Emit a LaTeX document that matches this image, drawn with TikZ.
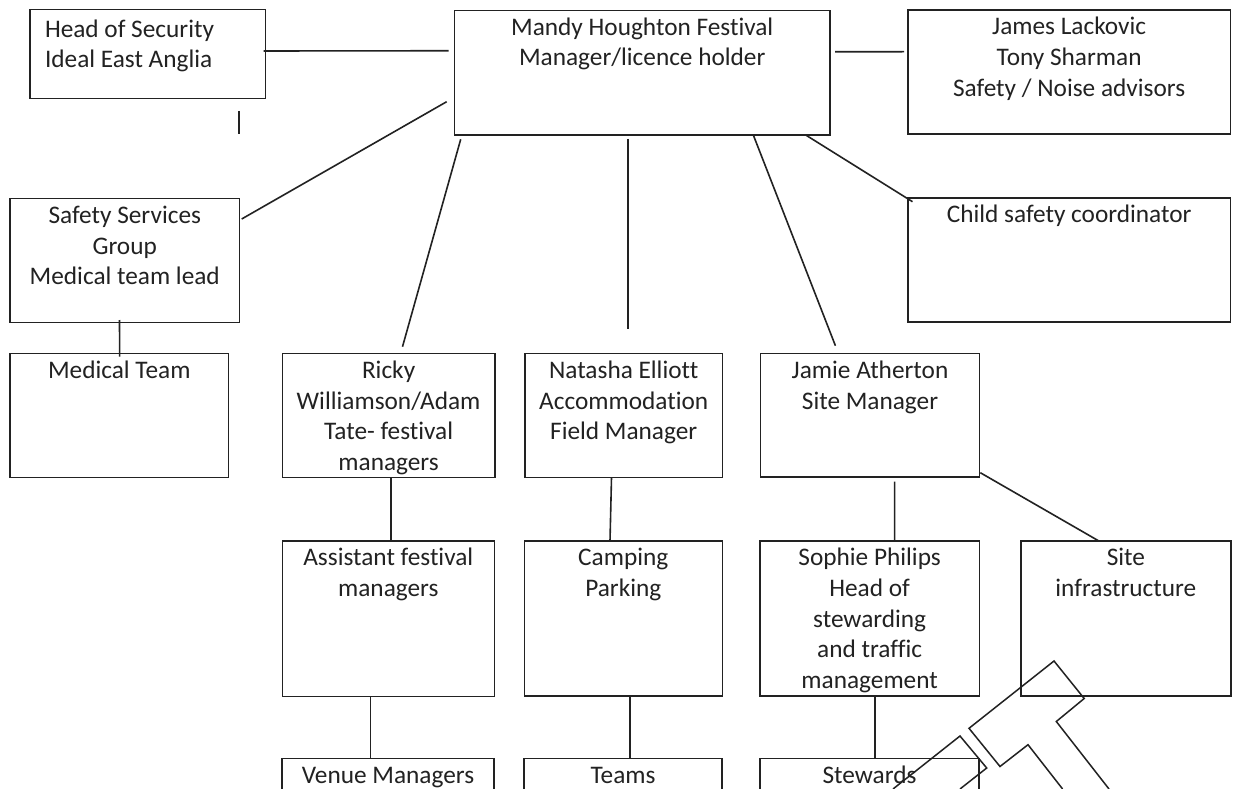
\documentclass[tikz,border=0pt]{standalone}
\usepackage{fontspec}
\setmainfont{Carlito}[Ligatures=NoCommon]
\usetikzlibrary{calc}
\definecolor{ink}{HTML}{222222}
\newcommand{\cbox}[3]{\parbox[c][#2pt][t]{#1pt}{\centering\rule{0pt}{24.8pt}#3\par}}
\begin{document}
\begin{tikzpicture}[x=1pt,y=-1pt,
  box/.style={draw=ink, line width=1.6pt, inner sep=0pt, outer sep=0pt, anchor=north west, text=ink,
    font=\fontsize{25.3pt}{30.7pt}\selectfont},
  link/.style={draw=ink, line width=1.6pt}]
\useasboundingbox (0,0) rectangle (1237,789);
\fill[white] (0,0) rectangle (1237,789);
\clip (0,0) rectangle (1237,789);

% row 1
\node[box] (hos) at (30,9.5) {\parbox[c][89pt][t]{235.5pt}{\raggedright\leftskip=15pt\rule{0pt}{27.8pt}Head of Security\\Ideal East Anglia\par}};
\node[box] (mandy) at (454.5,10.5) {\cbox{375.5}{124.5}{Mandy Houghton Festival\\Manager/licence holder}};
\node[box] (james) at (908,10) {\cbox{322.3}{124}{James Lackovic\\Tony Sharman\\Safety / Noise advisors}};
% row 2
\node[box] (safety) at (10,198.5) {\cbox{229.5}{124}{Safety Services\\Group\\Medical team lead}};
\node[box] (child) at (908,197.7) {\cbox{322.3}{124}{Child safety coordinator}};
% row 3
\node[box] (medical) at (10,353.5) {\cbox{218.5}{124}{Medical Team}};
\node[box] (ricky) at (282.5,353.5) {\cbox{212.2}{124}{Ricky\\Williamson/Adam\\Tate- festival\\managers}};
\node[box] (natasha) at (525,353.5) {\cbox{197.4}{124}{Natasha Elliott\\Accommodation\\Field Manager}};
\node[box] (jamie) at (760.5,353.5) {\cbox{219}{123.5}{Jamie Atherton\\Site Manager}};
% row 4
\node[box] (assistant) at (282.3,541) {\cbox{212}{155.3}{Assistant festival\\managers}};
\node[box] (camping) at (524.3,541) {\cbox{198}{155}{Camping\\Parking}};
\node[box] (sophie) at (760,541) {\cbox{219.3}{155}{Sophie Philips\\Head of\\stewarding\\and traffic\\management}};
\node[box] (site) at (1020.7,541) {\cbox{210.3}{155}{Site\\infrastructure}};
% row 5
\node[box] (venue) at (282,758.3) {\cbox{212}{80}{Venue Managers}};
\node[box] (teams) at (524,758.3) {\cbox{198}{80}{Teams}};
\node[box] (stewards) at (760,758.3) {\cbox{219}{80}{Stewards}};

% connectors
\draw[link] ([shift={(-2,-3)}]hos.east) -- ([shift={(-6,-22)}]mandy.west);
\draw[link] ([shift={(5,-21)}]mandy.east) -- ([shift={(-4,-20.3)}]james.west);
\draw[link] ([shift={(91,12.5)}]hos.south) -- ([shift={(91,35.5)}]hos.south);
\draw[link] ([shift={(-7.8,-33.3)}]mandy.south west) -- ([shift={(2.2,20.5)}]safety.north east);
\draw[link] ([shift={(6.2,4.3)}]mandy.south west) -- ([shift={(120,-6.8)}]ricky.north west);
\draw[link] ([shift={(-14.25,4)}]mandy.south) -- ([shift={(4.3,-24.5)}]natasha.north);
\draw[link] ([shift={(-76.7,0)}]mandy.south east) -- ([shift={(74.9,-7.8)}]jamie.north west);
\draw[link] ([shift={(-24.3,0)}]mandy.south east) -- ([shift={(4.5,4)}]child.north west);
\draw[link] ([shift={(-5.25,-2.5)}]safety.south) -- ([shift={(0.4,3.2)}]medical.north);
\draw[link] ([shift={(2.4,0)}]ricky.south) -- ([shift={(2.7,0)}]assistant.north);
\draw[link] ([shift={(-12.2,0)}]natasha.south) -- ([shift={(-13.3,0)}]camping.north);
\draw[link] ([shift={(24.6,4.7)}]jamie.south) -- ([shift={(24.9,-1)}]sophie.north);
\draw[link] ([shift={(0.8,-4.3)}]jamie.south east) -- ([shift={(-27.5,-0.3)}]site.north);
\draw[link] ([shift={(-18,0)}]assistant.south) -- ([shift={(-17.7,0)}]venue.north);
\draw[link] ([shift={(6.7,0)}]camping.south) -- ([shift={(7,0)}]teams.north);
\draw[link] ([shift={(5.35,0)}]sophie.south) -- ([shift={(5.5,0)}]stewards.north);

% stray T-shaped outline
\draw[link, line width=1.5pt, line join=miter] (1109,789) -- (1056.3,721.5) -- (1084.2,698.5) -- (1054,661) -- (969,728.3) -- (1000,766.5) -- (1028,744.7) -- (1062.6,789);
\draw[link, line width=1.5pt, line join=miter] (893,789) -- (960,736) -- (986.7,768) -- (960,789);
\end{tikzpicture}
\end{document}
